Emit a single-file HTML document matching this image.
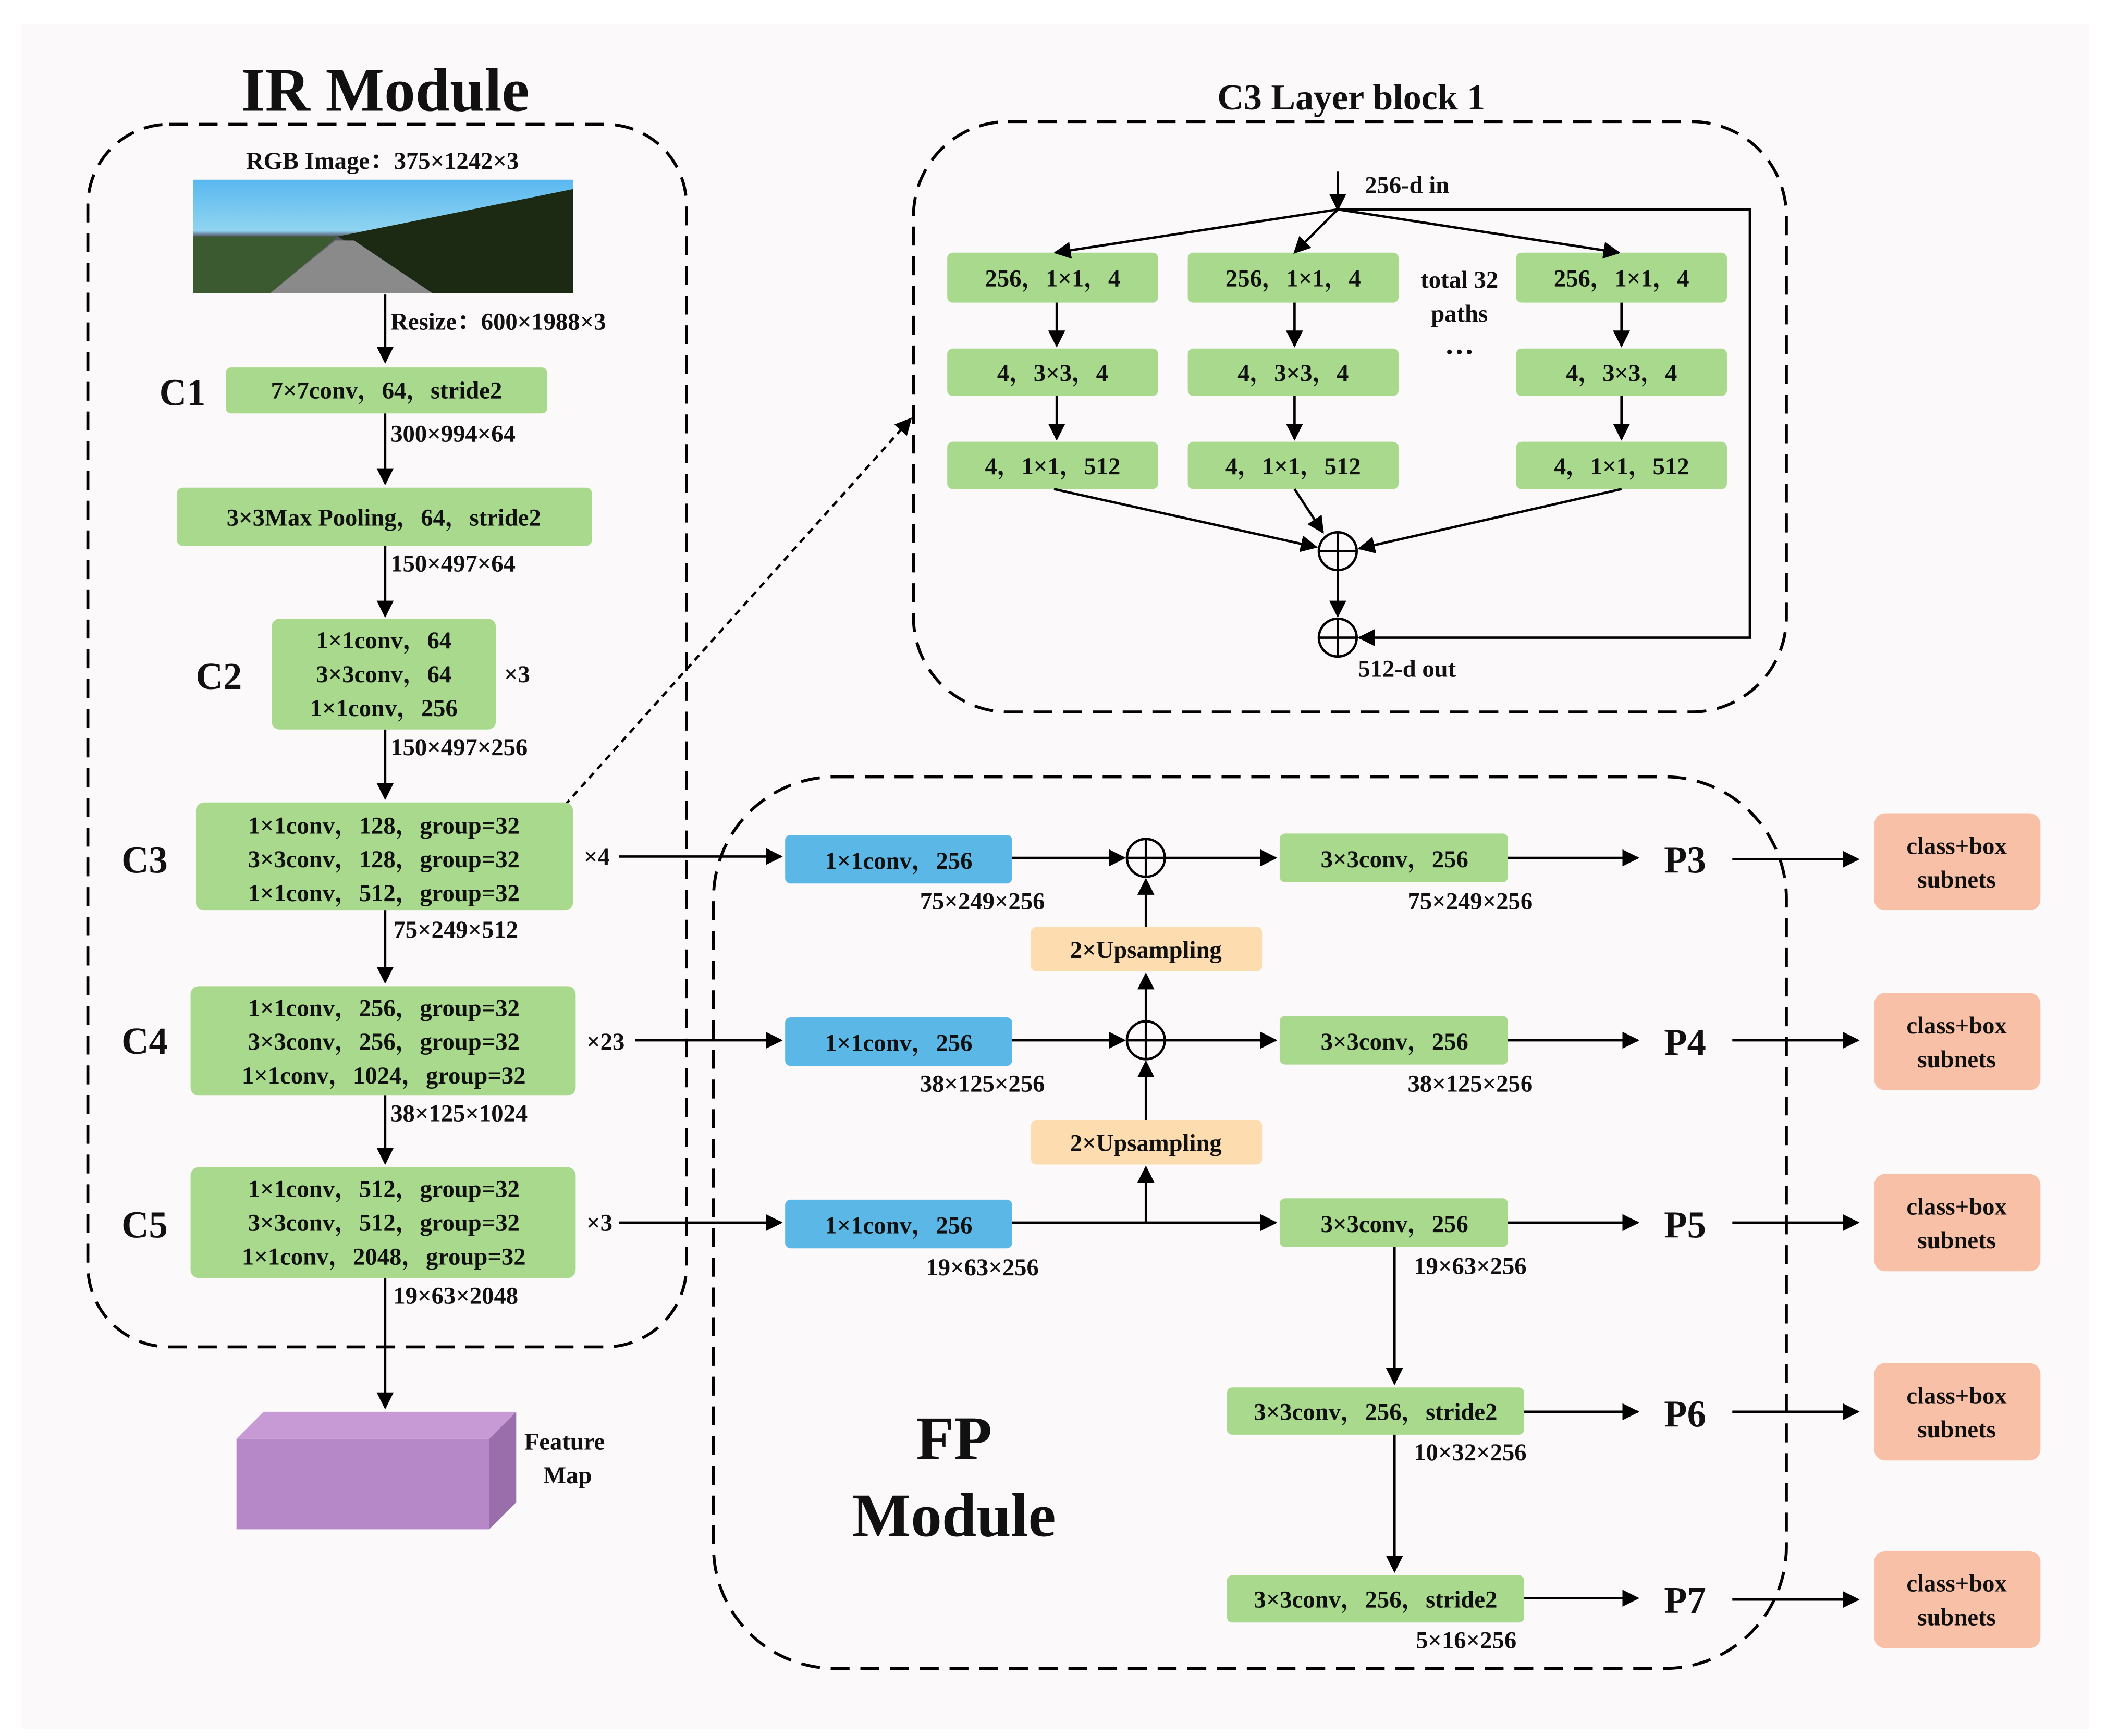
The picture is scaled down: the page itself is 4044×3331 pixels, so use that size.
<!DOCTYPE html>
<html><head><meta charset="utf-8"><style>
html,body{margin:0;padding:0;background:#fff}
svg{display:block}
text{font-family:"Liberation Serif","Noto Serif CJK SC",serif;font-weight:bold;fill:#111}
</style></head><body>
<svg width="4044" height="3331" viewBox="0 0 1560 1285" xmlns="http://www.w3.org/2000/svg">
<defs>
<marker id="a" viewBox="0 0 10 10" refX="9" refY="5" markerWidth="7" markerHeight="7" orient="auto-start-reverse"><path d="M0,0L10,5L0,10z" fill="#000"/></marker>
<linearGradient id="sky" x1="0" y1="0" x2="0" y2="1"><stop offset="0" stop-color="#5ab8f0"/><stop offset="0.45" stop-color="#8fd4f0"/><stop offset="0.5" stop-color="#556"/><stop offset="1" stop-color="#777"/></linearGradient>
</defs>
<rect x="0" y="0" width="1560" height="1285" fill="#fff"/>
<rect x="16" y="18" width="1530" height="1262" fill="#fcf9fb"/>
<g fill="none" stroke="#000" stroke-width="2.2" stroke-dasharray="14,8">
<rect x="65" y="92" width="443" height="905" rx="60"/>
<rect x="676" y="90" width="646" height="437" rx="70"/>
<rect x="528" y="575" width="794" height="660" rx="90"/>
</g>
<text x="285" y="82" font-size="46" text-anchor="middle">IR Module</text>
<text x="1000" y="81" font-size="27" text-anchor="middle">C3 Layer block 1</text>
<text x="283" y="125" font-size="18" text-anchor="middle">RGB Image：375×1242×3</text>
<!-- image -->
<rect x="143" y="133" width="281" height="84" fill="url(#sky)"/>
<path d="M250,175 L424,140 L424,217 L320,217z" fill="#1c2a14"/>
<path d="M143,175 L250,175 L200,217 L143,217z" fill="#3c5a30"/>
<path d="M200,217 L248,178 L262,178 L320,217z" fill="#8a8a8a"/>
<g fill="none" stroke="#000" stroke-width="1.8">
<line x1="285" y1="218" x2="285" y2="268" marker-end="url(#a)"/>
<line x1="285" y1="306" x2="285" y2="358" marker-end="url(#a)"/>
<line x1="285" y1="404" x2="285" y2="456" marker-end="url(#a)"/>
<line x1="285" y1="540" x2="285" y2="591" marker-end="url(#a)"/>
<line x1="285" y1="674" x2="285" y2="727" marker-end="url(#a)"/>
<line x1="285" y1="811" x2="285" y2="861" marker-end="url(#a)"/>
<line x1="285" y1="946" x2="285" y2="1042" marker-end="url(#a)"/>
<line x1="418" y1="596" x2="674" y2="310" stroke-dasharray="5,4" marker-end="url(#a)"/>
</g>
<g font-size="18">
<text x="289" y="244">Resize：600×1988×3</text>
<text x="289" y="327">300×994×64</text>
<text x="289" y="423">150×497×64</text>
<text x="289" y="559">150×497×256</text>
<text x="291" y="694">75×249×512</text>
<text x="289" y="830">38×125×1024</text>
<text x="291" y="965">19×63×2048</text>
</g>
<g font-size="28">
<text x="135" y="300" text-anchor="middle">C1</text>
<text x="162" y="510" text-anchor="middle">C2</text>
<text x="107" y="646" text-anchor="middle">C3</text>
<text x="107" y="780" text-anchor="middle">C4</text>
<text x="107" y="916" text-anchor="middle">C5</text>
<text x="1247" y="646" text-anchor="middle">P3</text>
<text x="1247" y="781" text-anchor="middle">P4</text>
<text x="1247" y="916" text-anchor="middle">P5</text>
<text x="1247" y="1056" text-anchor="middle">P6</text>
<text x="1247" y="1194" text-anchor="middle">P7</text>
</g>
<g fill="#a8d98c">
<rect x="167" y="272" width="238" height="34" rx="4"/>
<rect x="131" y="361" width="307" height="43" rx="4"/>
<rect x="201" y="458" width="166" height="82" rx="6"/>
<rect x="145" y="594" width="279" height="80" rx="6"/>
<rect x="141" y="730" width="285" height="81" rx="6"/>
<rect x="141" y="864" width="285" height="82" rx="6"/>
<rect x="701" y="187" width="156" height="37" rx="4"/><rect x="879" y="187" width="156" height="37" rx="4"/><rect x="1122" y="187" width="156" height="37" rx="4"/>
<rect x="701" y="258" width="156" height="35" rx="4"/><rect x="879" y="258" width="156" height="35" rx="4"/><rect x="1122" y="258" width="156" height="35" rx="4"/>
<rect x="701" y="327" width="156" height="35" rx="4"/><rect x="879" y="327" width="156" height="35" rx="4"/><rect x="1122" y="327" width="156" height="35" rx="4"/>
<rect x="947" y="617" width="169" height="36" rx="4"/>
<rect x="947" y="752" width="169" height="36" rx="4"/>
<rect x="947" y="887" width="169" height="36" rx="4"/>
<rect x="908" y="1027" width="220" height="35" rx="4"/>
<rect x="908" y="1166" width="220" height="35" rx="4"/>
</g>
<g font-size="18" text-anchor="middle">
<text x="286" y="295">7×7conv，64，stride2</text>
<text x="284" y="389">3×3Max Pooling，64，stride2</text>
<text x="284" y="480">1×1conv，64</text><text x="284" y="505">3×3conv，64</text><text x="284" y="530">1×1conv，256</text>
<text x="284" y="617">1×1conv，128，group=32</text><text x="284" y="642">3×3conv，128，group=32</text><text x="284" y="667">1×1conv，512，group=32</text>
<text x="284" y="752">1×1conv，256，group=32</text><text x="284" y="777">3×3conv，256，group=32</text><text x="284" y="802">1×1conv，1024，group=32</text>
<text x="284" y="886">1×1conv，512，group=32</text><text x="284" y="911">3×3conv，512，group=32</text><text x="284" y="936">1×1conv，2048，group=32</text>
<text x="779" y="212">256，1×1，4</text><text x="957" y="212">256，1×1，4</text><text x="1200" y="212">256，1×1，4</text>
<text x="779" y="282">4，3×3，4</text><text x="957" y="282">4，3×3，4</text><text x="1200" y="282">4，3×3，4</text>
<text x="779" y="351">4，1×1，512</text><text x="957" y="351">4，1×1，512</text><text x="1200" y="351">4，1×1，512</text>
<text x="1032" y="642">3×3conv，256</text><text x="1032" y="777">3×3conv，256</text><text x="1032" y="912">3×3conv，256</text>
<text x="1018" y="1051">3×3conv，256，stride2</text><text x="1018" y="1190">3×3conv，256，stride2</text>
<text x="1080" y="213">total 32</text><text x="1080" y="238">paths</text>
<text x="1080" y="268" font-size="22">···</text>
<text x="727" y="673">75×249×256</text><text x="1088" y="673">75×249×256</text>
<text x="727" y="808">38×125×256</text><text x="1088" y="808">38×125×256</text>
<text x="727" y="944">19×63×256</text><text x="1088" y="943">19×63×256</text>
<text x="1088" y="1081">10×32×256</text><text x="1085" y="1220">5×16×256</text>
</g>
<g font-size="18">
<text x="373" y="505">×3</text><text x="432" y="640">×4</text><text x="434" y="777">×23</text><text x="434" y="911">×3</text>
<text x="1010" y="143">256-d in</text><text x="1005" y="501">512-d out</text>
<text x="388" y="1073">Feature</text><text x="402" y="1098">Map</text>
</g>
<!-- feature map -->
<path d="M175,1065 L195,1045 L382,1045 L362,1065z" fill="#c79ad6"/>
<path d="M362,1065 L382,1045 L382,1112 L362,1132z" fill="#9a6eaa"/>
<rect x="175" y="1065" width="187" height="67" fill="#b688c8"/>
<!-- C3 block connectors -->
<g fill="none" stroke="#000" stroke-width="1.8">
<line x1="990" y1="127" x2="990" y2="155" marker-end="url(#a)"/>
<line x1="990" y1="155" x2="781" y2="187" marker-end="url(#a)"/>
<line x1="990" y1="155" x2="958" y2="187" marker-end="url(#a)"/>
<line x1="990" y1="155" x2="1198" y2="187" marker-end="url(#a)"/>
<polyline points="990,155 1295,155 1295,472 1006,472" marker-end="url(#a)"/>
<line x1="782" y1="224" x2="782" y2="256" marker-end="url(#a)"/><line x1="958" y1="224" x2="958" y2="256" marker-end="url(#a)"/><line x1="1200" y1="224" x2="1200" y2="256" marker-end="url(#a)"/>
<line x1="782" y1="293" x2="782" y2="325" marker-end="url(#a)"/><line x1="958" y1="293" x2="958" y2="325" marker-end="url(#a)"/><line x1="1200" y1="293" x2="1200" y2="325" marker-end="url(#a)"/>
<line x1="780" y1="362" x2="974" y2="405" marker-end="url(#a)"/>
<line x1="958" y1="362" x2="979" y2="394" marker-end="url(#a)"/>
<line x1="1200" y1="362" x2="1006" y2="406" marker-end="url(#a)"/>
<line x1="990" y1="422" x2="990" y2="456" marker-end="url(#a)"/>
<circle cx="990" cy="408" r="14"/><line x1="976" y1="408" x2="1004" y2="408"/><line x1="990" y1="394" x2="990" y2="422"/>
<circle cx="990" cy="472" r="14"/><line x1="976" y1="472" x2="1004" y2="472"/><line x1="990" y1="458" x2="990" y2="486"/>
<!-- FP -->
<line x1="458" y1="634" x2="578" y2="634" marker-end="url(#a)"/>
<line x1="470" y1="770" x2="578" y2="770" marker-end="url(#a)"/>
<line x1="458" y1="905" x2="578" y2="905" marker-end="url(#a)"/>
<line x1="749" y1="635" x2="832" y2="635" marker-end="url(#a)"/>
<line x1="749" y1="770" x2="832" y2="770" marker-end="url(#a)"/>
<line x1="749" y1="905" x2="944" y2="905" marker-end="url(#a)"/>
<line x1="862" y1="635" x2="944" y2="635" marker-end="url(#a)"/>
<line x1="862" y1="770" x2="944" y2="770" marker-end="url(#a)"/>
<circle cx="848" cy="635" r="14"/><line x1="834" y1="635" x2="862" y2="635"/><line x1="848" y1="621" x2="848" y2="649"/>
<circle cx="848" cy="770" r="14"/><line x1="834" y1="770" x2="862" y2="770"/><line x1="848" y1="756" x2="848" y2="784"/>
<line x1="848" y1="686" x2="848" y2="651" marker-end="url(#a)"/>
<line x1="848" y1="756" x2="848" y2="721" marker-end="url(#a)"/>
<line x1="848" y1="829" x2="848" y2="786" marker-end="url(#a)"/>
<line x1="848" y1="905" x2="848" y2="864" marker-end="url(#a)"/>
<line x1="1116" y1="635" x2="1212" y2="635" marker-end="url(#a)"/>
<line x1="1116" y1="770" x2="1212" y2="770" marker-end="url(#a)"/>
<line x1="1116" y1="905" x2="1212" y2="905" marker-end="url(#a)"/>
<line x1="1128" y1="1045" x2="1212" y2="1045" marker-end="url(#a)"/>
<line x1="1128" y1="1183" x2="1212" y2="1183" marker-end="url(#a)"/>
<line x1="1032" y1="923" x2="1032" y2="1024" marker-end="url(#a)"/>
<line x1="1032" y1="1062" x2="1032" y2="1163" marker-end="url(#a)"/>
<line x1="1282" y1="636" x2="1375" y2="636" marker-end="url(#a)"/>
<line x1="1282" y1="770" x2="1375" y2="770" marker-end="url(#a)"/>
<line x1="1282" y1="905" x2="1375" y2="905" marker-end="url(#a)"/>
<line x1="1282" y1="1045" x2="1375" y2="1045" marker-end="url(#a)"/>
<line x1="1282" y1="1184" x2="1375" y2="1184" marker-end="url(#a)"/>
</g>
<g fill="#5bb8e6">
<rect x="581" y="618" width="168" height="36" rx="4"/>
<rect x="581" y="753" width="168" height="36" rx="4"/>
<rect x="581" y="888" width="168" height="36" rx="4"/>
</g>
<g fill="#fddcb0">
<rect x="763" y="686" width="171" height="33" rx="4"/>
<rect x="763" y="829" width="171" height="33" rx="4"/>
</g>
<g fill="#f9c0a8">
<rect x="1387" y="602" width="123" height="72" rx="8"/>
<rect x="1387" y="735" width="123" height="72" rx="8"/>
<rect x="1387" y="869" width="123" height="72" rx="8"/>
<rect x="1387" y="1009" width="123" height="72" rx="8"/>
<rect x="1387" y="1148" width="123" height="72" rx="8"/>
</g>
<g font-size="18" text-anchor="middle">
<text x="665" y="643">1×1conv，256</text><text x="665" y="778">1×1conv，256</text><text x="665" y="913">1×1conv，256</text>
<text x="848" y="709">2×Upsampling</text><text x="848" y="852">2×Upsampling</text>
<text x="1448" y="632">class+box</text><text x="1448" y="657">subnets</text>
<text x="1448" y="765">class+box</text><text x="1448" y="790">subnets</text>
<text x="1448" y="899">class+box</text><text x="1448" y="924">subnets</text>
<text x="1448" y="1039">class+box</text><text x="1448" y="1064">subnets</text>
<text x="1448" y="1178">class+box</text><text x="1448" y="1203">subnets</text>
</g>
<text x="706" y="1080" font-size="46" text-anchor="middle">FP</text>
<text x="706" y="1137" font-size="46" text-anchor="middle">Module</text>
</svg>
</body></html>
